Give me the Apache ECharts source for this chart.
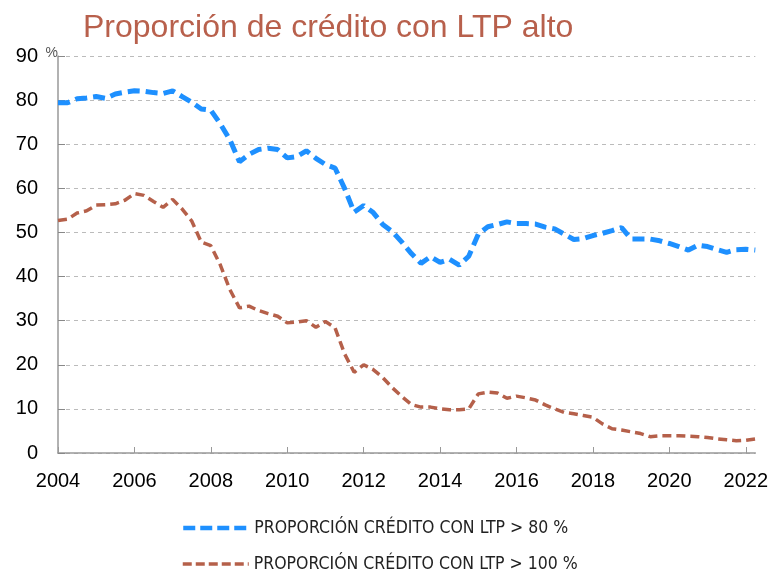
<!DOCTYPE html>
<html>
<head>
<meta charset="utf-8">
<script src="https://cdn.jsdelivr.net/npm/echarts@6/dist/echarts.min.js"></script>
<style>
  html, body { margin: 0; padding: 0; background: #fff; }
  #chart { width: 771px; height: 573px; }
</style>
</head>
<body>
<div id="chart"></div>
<script>
  // trimestres 2004T1 .. 2022T2
  var years = [2004, 2005, 2006, 2007, 2008, 2009, 2010, 2011, 2012, 2013,
               2014, 2015, 2016, 2017, 2018, 2019, 2020, 2021, 2022]
  var quarters = ['T1', 'T2', 'T3', 'T4']

  // LTP > 80 %
  var ltp80 = [
    79.4, 79.4, 80.3, 80.5,  80.8, 80.4, 81.4, 81.8,  82.1, 82.0, 81.7, 81.5,
    82.1, 80.8, 79.5, 78.0,  77.7, 74.6, 71.0, 66.0,  67.7, 68.8, 69.1, 68.8,
    66.9, 67.2, 68.5, 66.8,  65.4, 64.6, 60.0, 54.6,  56.1, 54.5, 51.8, 50.2,
    47.8, 45.2, 43.0, 44.5,  43.2, 43.9, 42.6, 44.6,  49.6, 51.3, 51.8, 52.4,
    52.0, 52.0, 51.9, 51.2,  50.8, 49.6, 48.4, 48.6,  49.3, 49.8, 50.4, 51.1,
    48.5, 48.5, 48.5, 48.1,  47.5, 46.8, 46.0, 47.1,  46.8, 46.1, 45.5, 46.1,
    46.2, 46.0
  ]
  // LTP > 100 %
  var ltp100 = [
    52.7, 53.0, 54.4, 54.9,  56.2, 56.3, 56.5, 57.3,  58.8, 58.4, 57.0, 55.7,
    57.5, 55.3, 52.6, 47.8,  47.0, 42.6, 37.0, 32.9,  33.3, 32.3, 31.6, 31.0,
    29.5, 29.7, 30.0, 28.5,  29.8, 28.4, 22.5, 18.3,  20.0, 18.9, 17.1, 14.8,
    12.8, 11.0, 10.4, 10.4,  10.0, 9.8, 9.8, 10.0,    13.4, 13.8, 13.6, 12.4,
    12.9, 12.5, 12.0, 10.9,  10.0, 9.2, 8.9, 8.5,     8.1, 6.6, 5.5, 5.2,
    4.8, 4.4, 3.7, 3.9,      3.9, 3.9, 3.8, 3.7,      3.5, 3.2, 3.0, 2.8,
    2.9, 3.2
  ]
  var seriesNames = ['PROPORCIÓN CRÉDITO CON LTP > 80 %', 'PROPORCIÓN CRÉDITO CON LTP > 100 %']

  var categories = []
  years.forEach(function (y) {
    quarters.forEach(function (q) { categories.push(y + q) })
  })
  categories = categories.slice(0, ltp80.length)

  // una leyenda por fila
  function legendRow (name, top, lineWidth, dash) {
    return {
      data: [name],
      left: 176,
      top: top,
      itemWidth: 66,
      itemHeight: 14,
      itemGap: 10,
      itemStyle: { opacity: 0 },     // sin circulo en el icono
      lineStyle: { width: lineWidth, type: dash },
      textStyle: {
        fontSize: 17.5,
        color: '#222',
        fontFamily: "'Liberation Sans Narrow', 'DejaVu Sans Condensed', 'Roboto Condensed', sans-serif"
      }
    }
  }

  var chart = echarts.init(document.getElementById('chart'))
  chart.setOption({
    animation: false,
    textStyle: { fontFamily: "'Liberation Sans', Arial, sans-serif" },
    title: {
      text: 'Proporción de crédito con LTP alto',
      left: 78,
      top: 7,
      textStyle: { fontSize: 32, fontWeight: 'normal', color: '#B8604C' }
    },
    legend: [
      legendRow(seriesNames[0], 514, 4.5, [12, 5]),
      legendRow(seriesNames[1], 550, 3.5, [9, 4])
    ],
    grid: { left: 58, right: 14, top: 56, bottom: 120 },
    xAxis: {
      type: 'category',
      boundaryGap: false,
      data: categories,
      axisLine: { lineStyle: { color: '#999', width: 1.5 } },
      axisTick: { inside: true, length: 6, interval: 7, lineStyle: { color: '#999' } },
      axisLabel: {
        interval: 7,
        margin: 18,
        fontSize: 20,
        color: '#000',
        formatter: function (v) { return v.slice(0, 4) }
      },
      splitLine: { show: false }
    },
    yAxis: {
      type: 'value',
      min: 0,
      max: 90,
      interval: 10,
      name: '%',
      nameLocation: 'end',
      nameGap: 0,
      nameTextStyle: { fontSize: 14, color: '#555', align: 'right', verticalAlign: 'bottom', padding: [0, 0, -4, 0] },
      axisLine: { show: true, lineStyle: { color: '#999', width: 1.5 } },
      axisTick: { show: true, inside: true, length: 7, lineStyle: { color: '#888' } },
      axisLabel: { fontSize: 20, color: '#000', margin: 20 },
      splitLine: { lineStyle: { color: '#bbb', type: [4, 4] } }
    },
    series: [
      {
        name: seriesNames[0],
        type: 'line',
        data: ltp80,
        symbol: 'none',
        lineStyle: { color: '#1E90FF', width: 5, type: [12, 6] },
        itemStyle: { color: '#1E90FF' }
      },
      {
        name: seriesNames[1],
        type: 'line',
        data: ltp100,
        symbol: 'none',
        lineStyle: { color: '#B5604A', width: 3.5, type: [9, 5] },
        itemStyle: { color: '#B5604A' }
      }
    ]
  })
</script>
</body>
</html>
